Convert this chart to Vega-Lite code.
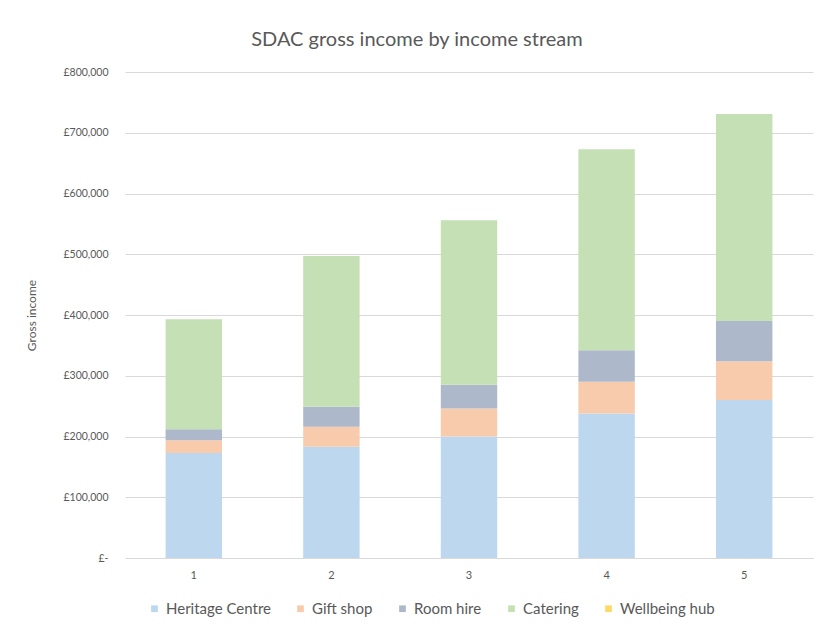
{
  "$schema": "https://vega.github.io/schema/vega-lite/v6.json",
  "width": 688,
  "height": 486,
  "autosize": {"type": "none"},
  "padding": {"left": 125, "top": 72, "right": 3, "bottom": 68},
  "background": "white",
  "title": {
    "text": "SDAC gross income by income stream",
    "font": "Lato",
    "fontSize": 20,
    "fontWeight": "normal",
    "color": "#595959",
    "anchor": "middle",
    "dx": -52,
    "offset": 17
  },
  "data": {
    "values": [
      {"year": "1", "stream": "Heritage Centre", "income": 173000},
      {"year": "1", "stream": "Gift shop", "income": 21000},
      {"year": "1", "stream": "Room hire", "income": 18000},
      {"year": "1", "stream": "Catering", "income": 181000},
      {"year": "1", "stream": "Wellbeing hub", "income": 0},
      {"year": "2", "stream": "Heritage Centre", "income": 183000},
      {"year": "2", "stream": "Gift shop", "income": 33000},
      {"year": "2", "stream": "Room hire", "income": 33000},
      {"year": "2", "stream": "Catering", "income": 248000},
      {"year": "2", "stream": "Wellbeing hub", "income": 0},
      {"year": "3", "stream": "Heritage Centre", "income": 200000},
      {"year": "3", "stream": "Gift shop", "income": 46000},
      {"year": "3", "stream": "Room hire", "income": 39000},
      {"year": "3", "stream": "Catering", "income": 271000},
      {"year": "3", "stream": "Wellbeing hub", "income": 0},
      {"year": "4", "stream": "Heritage Centre", "income": 238000},
      {"year": "4", "stream": "Gift shop", "income": 52000},
      {"year": "4", "stream": "Room hire", "income": 52000},
      {"year": "4", "stream": "Catering", "income": 331000},
      {"year": "4", "stream": "Wellbeing hub", "income": 0},
      {"year": "5", "stream": "Heritage Centre", "income": 260000},
      {"year": "5", "stream": "Gift shop", "income": 64000},
      {"year": "5", "stream": "Room hire", "income": 66000},
      {"year": "5", "stream": "Catering", "income": 341000},
      {"year": "5", "stream": "Wellbeing hub", "income": 0}
    ]
  },
  "transform": [
    {"calculate": "indexof(['Heritage Centre', 'Gift shop', 'Room hire', 'Catering', 'Wellbeing hub'], datum.stream)", "as": "stackOrder"}
  ],
  "mark": {"type": "bar"},
  "encoding": {
    "x": {
      "field": "year",
      "type": "nominal",
      "scale": {"paddingInner": 0.59, "paddingOuter": 0.295},
      "axis": {
        "title": null,
        "labelAngle": 0,
        "labelFont": "Lato",
        "labelFontSize": 11,
        "labelColor": "#595959",
        "ticks": false,
        "labelPadding": 11,
        "domainColor": "#d9d9d9",
        "domainWidth": 1
      }
    },
    "y": {
      "field": "income",
      "type": "quantitative",
      "stack": "zero",
      "scale": {"domain": [0, 800000]},
      "axis": {
        "title": "Gross income",
        "titleFont": "Lato",
        "titleFontSize": 12,
        "titleFontWeight": "normal",
        "titleColor": "#595959",
        "titleX": -87,
        "values": [0, 100000, 200000, 300000, 400000, 500000, 600000, 700000, 800000],
        "labelExpr": "datum.value == 0 ? '£-' : '£' + format(datum.value, ',')",
        "labelFont": "Lato",
        "labelFontSize": 10.5,
        "labelColor": "#595959",
        "labelPadding": 17,
        "ticks": false,
        "domain": false,
        "gridColor": "#d9d9d9",
        "gridWidth": 1
      }
    },
    "color": {
      "field": "stream",
      "type": "nominal",
      "sort": ["Heritage Centre", "Gift shop", "Room hire", "Catering", "Wellbeing hub"],
      "scale": {
        "domain": ["Heritage Centre", "Gift shop", "Room hire", "Catering", "Wellbeing hub"],
        "range": ["#bdd7ee", "#f8cbad", "#adb9ca", "#c5e0b4", "#ffd966"]
      },
      "legend": {
        "title": null,
        "orient": "none",
        "direction": "horizontal",
        "legendX": 22,
        "legendY": 529,
        "symbolType": "square",
        "symbolSize": 45,
        "symbolStrokeWidth": 0,
        "labelFont": "Lato",
        "labelFontSize": 15,
        "labelColor": "#595959",
        "columnPadding": 22,
        "labelOffset": 4
      }
    },
    "order": {"field": "stackOrder", "type": "quantitative", "sort": "ascending"}
  },
  "config": {"view": {"stroke": null}}
}
